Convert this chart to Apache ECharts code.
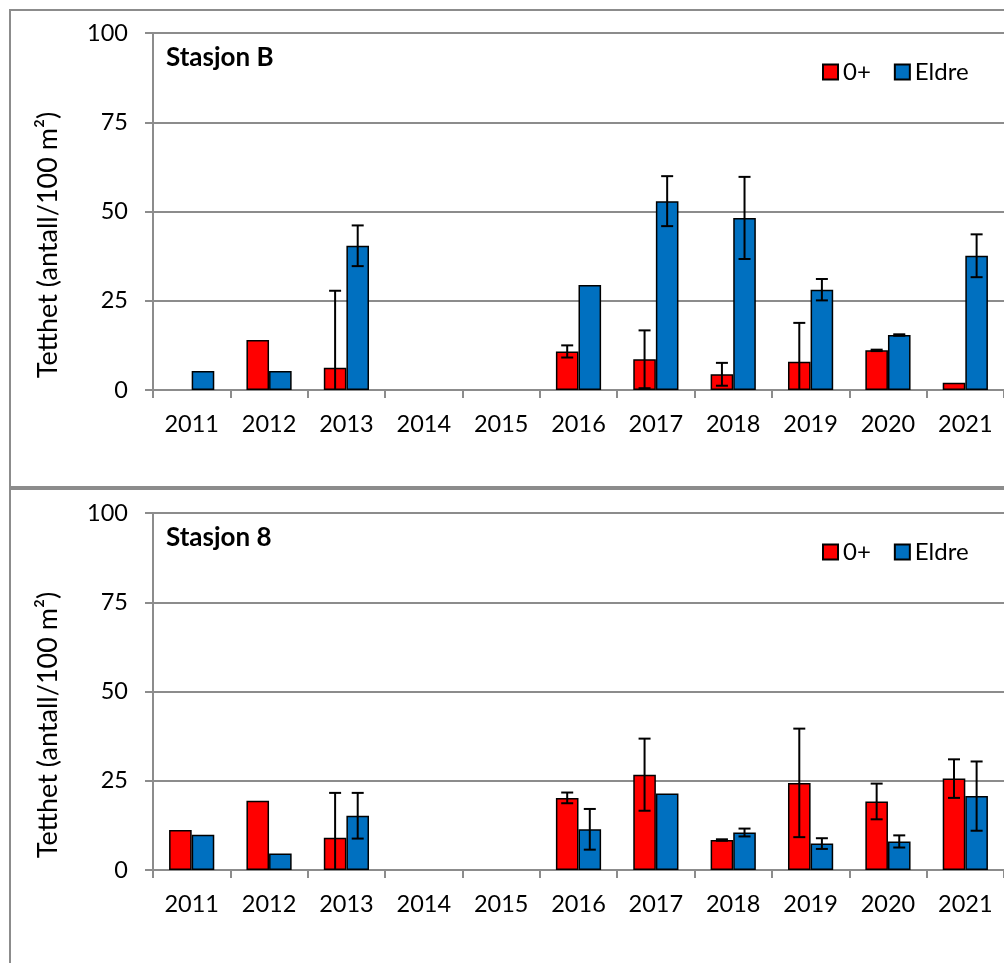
<!DOCTYPE html>
<html>
<head>
<meta charset="utf-8">
<script src="https://cdn.jsdelivr.net/npm/echarts@6/dist/echarts.min.js"></script>
<style>
  html, body { margin: 0; padding: 0; background: #ffffff; }
  #chart { width: 1004px; height: 963px; }
</style>
</head>
<body>
<div id="chart"></div>
<script>
// Fish density per station and year, with standard deviation
const years = ['2011', '2012', '2013', '2014', '2015', '2016', '2017', '2018', '2019', '2020', '2021'];
const yTicks = [0, 25, 50, 75, 100];

const stationTitles = ['Stasjon B', 'Stasjon 8'];
const seriesNames = ['0+', 'Eldre'];

// Stasjon B
const stationBYoung = [null, 14.0, 6.2, null, null, 10.8, 8.6, 4.4, 7.9, 11.1, 2.0];
const stationBYoungSd = [null, null, 21.6, null, null, 1.7, 8.1, 3.2, 10.9, 0.2, null];
const stationBOlder = [5.3, 5.3, 40.4, null, null, 29.4, 52.9, 48.2, 28.1, 15.4, 37.6];
const stationBOlderSd = [null, null, 5.7, null, null, null, 7.0, 11.5, 3.0, 0.2, 6.0];

// Stasjon 8
const station8Young = [11.2, 19.4, 9.0, null, null, 20.2, 26.7, 8.4, 24.4, 19.2, 25.6];
const station8YoungSd = [null, null, 12.6, null, null, 1.5, 10.1, 0.2, 15.2, 5.0, 5.4];
const station8Older = [9.9, 4.6, 15.2, null, null, 11.4, 21.4, 10.5, 7.4, 8.0, 20.7];
const station8OlderSd = [null, null, 6.4, null, null, 5.7, null, 1.1, 1.5, 1.7, 9.7];

const colors = ['#ff0000', '#0070c0'];
const gray = '#8c8c8c';
const font = 'Lato';
const BAR_W = 22.6;
const CAP_HALF = 6;

const panels = [
  { title: stationTitles[0], young: stationBYoung, youngSd: stationBYoungSd, older: stationBOlder, olderSd: stationBOlderSd },
  { title: stationTitles[1], young: station8Young, youngSd: station8YoungSd, older: station8Older, olderSd: station8OlderSd }
];

const gridTops = [33, 513];
const PLOT_H = 357;

function errorSeries(values, sds, side, axisIdx) {
  const data = [];
  values.forEach((v, i) => {
    if (v != null && sds[i] != null) data.push([i, v, sds[i]]);
  });
  return {
    type: 'custom',
    xAxisIndex: axisIdx,
    yAxisIndex: axisIdx,
    silent: true,
    z: 10,
    data: data,
    renderItem: function (params, api) {
      const i = api.value(0), v = api.value(1), sd = api.value(2);
      const hiV = v + sd;
      const loV = Math.max(0, v - sd);
      const hi = api.coord([i, hiV]);
      const lo = api.coord([i, loV]);
      const x = hi[0] + side * BAR_W / 2;
      const children = [
        { type: 'line', shape: { x1: x, y1: hi[1], x2: x, y2: lo[1] } },
        { type: 'line', shape: { x1: x - CAP_HALF, y1: hi[1], x2: x + CAP_HALF, y2: hi[1] } }
      ];
      if (v - sd > 0) {
        children.push({ type: 'line', shape: { x1: x - CAP_HALF, y1: lo[1], x2: x + CAP_HALF, y2: lo[1] } });
      }
      children.forEach(c => { c.style = { stroke: '#000', lineWidth: 2 }; });
      return { type: 'group', children: children };
    }
  };
}

const grid = [], xAxis = [], yAxis = [], series = [], title = [], legend = [], graphic = [];

panels.forEach((p, k) => {
  const top = gridTops[k];
  grid.push({ left: 153, top: top, width: 856, height: PLOT_H, containLabel: false });
  xAxis.push({
    type: 'category', gridIndex: k, data: years,
    axisLine: { lineStyle: { color: gray, width: 2 } },
    axisTick: { show: true, length: 8, lineStyle: { color: gray, width: 2 } },
    axisLabel: { color: '#000', fontFamily: font, fontSize: 23.5, margin: 22 },
    splitLine: { show: false }
  });
  yAxis.push({
    type: 'value', gridIndex: k, min: yTicks[0], max: yTicks[yTicks.length - 1], interval: 25,
    axisLine: { show: true, lineStyle: { color: gray, width: 2 } },
    axisTick: { show: true, length: 8, lineStyle: { color: gray, width: 2 } },
    axisLabel: { color: '#000', fontFamily: font, fontSize: 23.5, margin: 25 },
    splitLine: { show: true, lineStyle: { color: gray, width: 2 } }
  });
  [p.young, p.older].forEach((vals, s) => {
    series.push({
      name: seriesNames[s], type: 'bar', xAxisIndex: k, yAxisIndex: k,
      data: vals, barWidth: BAR_W, barGap: '0%',
      itemStyle: { color: colors[s], borderColor: '#000', borderWidth: 1.5 },
      emphasis: { disabled: true }
    });
  });
  series.push(errorSeries(p.young, p.youngSd, -1, k));
  series.push(errorSeries(p.older, p.olderSd, 1, k));

  title.push({
    text: p.title, left: 161, top: top + 7,
    textStyle: { fontFamily: font, fontSize: 26, fontWeight: 'bold', color: '#000' }
  });
  legend.push({
    data: seriesNames, left: 817, top: top + 22, orient: 'horizontal',
    icon: 'rect', itemWidth: 15, itemHeight: 15, itemGap: 23,
    selectedMode: false,
    textStyle: { fontFamily: font, fontSize: 24, color: '#000', lineHeight: 24 }
  });
  graphic.push({
    type: 'text',
    x: 48, y: top + 212, rotation: Math.PI / 2,
    style: {
      text: 'Tetthet (antall/100 m²)', fill: '#000',
      font: '27px ' + font, textAlign: 'center', textVerticalAlign: 'middle'
    }
  });
});

// panel frames
graphic.push({ type: 'rect', shape: { x: 10, y: 10, width: 1010, height: 477 },
  style: { fill: 'none', stroke: gray, lineWidth: 2 }, silent: true });
graphic.push({ type: 'rect', shape: { x: 10, y: 489, width: 1010, height: 500 },
  style: { fill: 'none', stroke: gray, lineWidth: 2 }, silent: true });

const chart = echarts.init(document.getElementById('chart'), null, { renderer: 'canvas' });
chart.setOption({
  animation: false,
  backgroundColor: '#ffffff',
  title: title,
  legend: legend,
  grid: grid,
  xAxis: xAxis,
  yAxis: yAxis,
  series: series,
  graphic: graphic
});
</script>
</body>
</html>
